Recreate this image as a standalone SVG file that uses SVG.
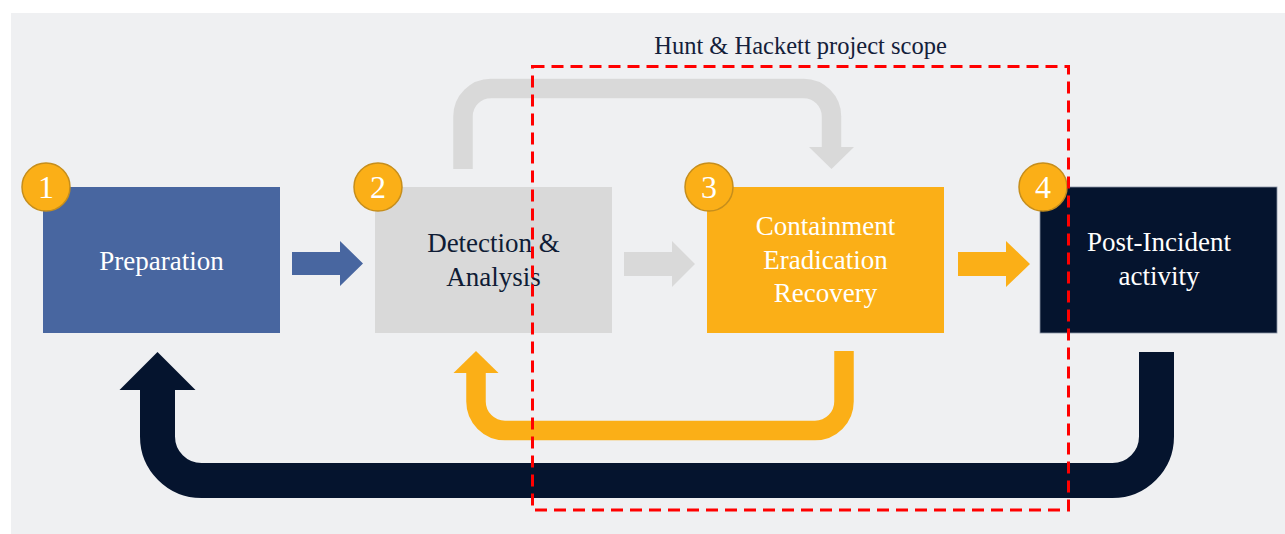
<svg xmlns="http://www.w3.org/2000/svg" width="1285" height="534" viewBox="0 0 1285 534">
  <style>
    .lbl { font-family: "Liberation Serif", "Times New Roman", serif; font-size: 27px; text-anchor: middle; }
    .light { fill: #FFFFFF; }
    .dark { fill: #0F1C35; }
    .badge circle { fill: #FBAF17; stroke: #C68E1C; stroke-width: 1.5; }
    .badge text { font-family: "Liberation Serif", "Times New Roman", serif; font-size: 32px; fill: #FFFFFF; text-anchor: middle; }
    .title { font-family: "Liberation Serif", "Times New Roman", serif; font-size: 24.5px; fill: #14203A; text-anchor: middle; }
  </style>

  <!-- canvas -->
  <rect x="0" y="0" width="1285" height="534" fill="#FFFFFF"/>
  <rect x="11" y="13" width="1274" height="521" fill="#EFF0F2"/>

  <!-- connectors -->
  <g id="connectors">
    <!-- Detection loop back over the top into Containment -->
    <path d="M463 169 V116.5 A28 28 0 0 1 491 88.5 H803.5 A28 28 0 0 1 831.5 116.5 V148" fill="none" stroke="#D9D9D9" stroke-width="19.5"/>
    <polygon points="809,147 854,147 831.5,169" fill="#D9D9D9"/>

    <!-- Preparation -> Detection -->
    <polygon points="292,252 340,252 340,241 363,263.5 340,286 340,275 292,275" fill="#4866A0"/>
    <!-- Detection -> Containment -->
    <polygon points="624,252 672,252 672,241 695,264 672,287 672,276 624,276" fill="#D9D9D9"/>
    <!-- Containment -> Post-Incident -->
    <polygon points="958,252 1006,252 1006,241 1030,264 1006,287 1006,276 958,276" fill="#FBAF17"/>

    <!-- Containment loop back to Detection -->
    <path d="M844 351 V401.5 A29 29 0 0 1 815 430.5 H505 A29 29 0 0 1 476 401.5 V372" fill="none" stroke="#FBAF17" stroke-width="19.5"/>
    <polygon points="453.5,373 498.5,373 476,351" fill="#FBAF17"/>

    <!-- Post-Incident loop back to Preparation -->
    <path d="M1156.5 352 V436.5 A44 44 0 0 1 1112.5 480.5 H201.5 A44 44 0 0 1 157.5 436.5 V389" fill="none" stroke="#05142E" stroke-width="35"/>
    <polygon points="119.5,390 195.5,390 157.5,352" fill="#05142E"/>
  </g>

  <!-- nodes -->
  <g id="preparation">
    <rect x="43" y="187" width="237" height="146" fill="#4866A0"/>
    <text class="lbl light" x="161.5" y="270">Preparation</text>
  </g>

  <g id="detection">
    <rect x="375" y="187" width="237" height="146" fill="#D9D9D9"/>
    <text class="lbl dark" x="493.5" y="252">Detection &amp;</text>
    <text class="lbl dark" x="493.5" y="286">Analysis</text>
  </g>

  <g id="containment">
    <rect x="707" y="187" width="237" height="146" fill="#FBAF17"/>
    <text class="lbl light" x="825.5" y="235">Containment</text>
    <text class="lbl light" x="825.5" y="268.5">Eradication</text>
    <text class="lbl light" x="825.5" y="302">Recovery</text>
  </g>

  <g id="post-incident">
    <rect x="1040" y="187" width="237" height="146" fill="#05142E" stroke="#8A93A6" stroke-width="0.8"/>
    <text class="lbl light" x="1159" y="251">Post-Incident</text>
    <text class="lbl light" x="1159" y="285">activity</text>
  </g>

  <!-- step badges -->
  <g id="badge-1" class="badge">
    <circle cx="46" cy="187" r="24"/>
    <text x="46" y="198">1</text>
  </g>
  <g id="badge-2" class="badge">
    <circle cx="378" cy="187" r="24"/>
    <text x="378" y="198">2</text>
  </g>
  <g id="badge-3" class="badge">
    <circle cx="709" cy="187" r="24"/>
    <text x="709" y="198">3</text>
  </g>
  <g id="badge-4" class="badge">
    <circle cx="1043" cy="187" r="24"/>
    <text x="1043" y="198">4</text>
  </g>

  <!-- project scope frame -->
  <g id="scope">
    <rect x="532.5" y="66.5" width="536" height="443.5" fill="none" stroke="#FF0000" stroke-width="3" stroke-dasharray="12 7"/>
    <text class="title" x="800.5" y="54">Hunt &amp; Hackett project scope</text>
  </g>
</svg>
